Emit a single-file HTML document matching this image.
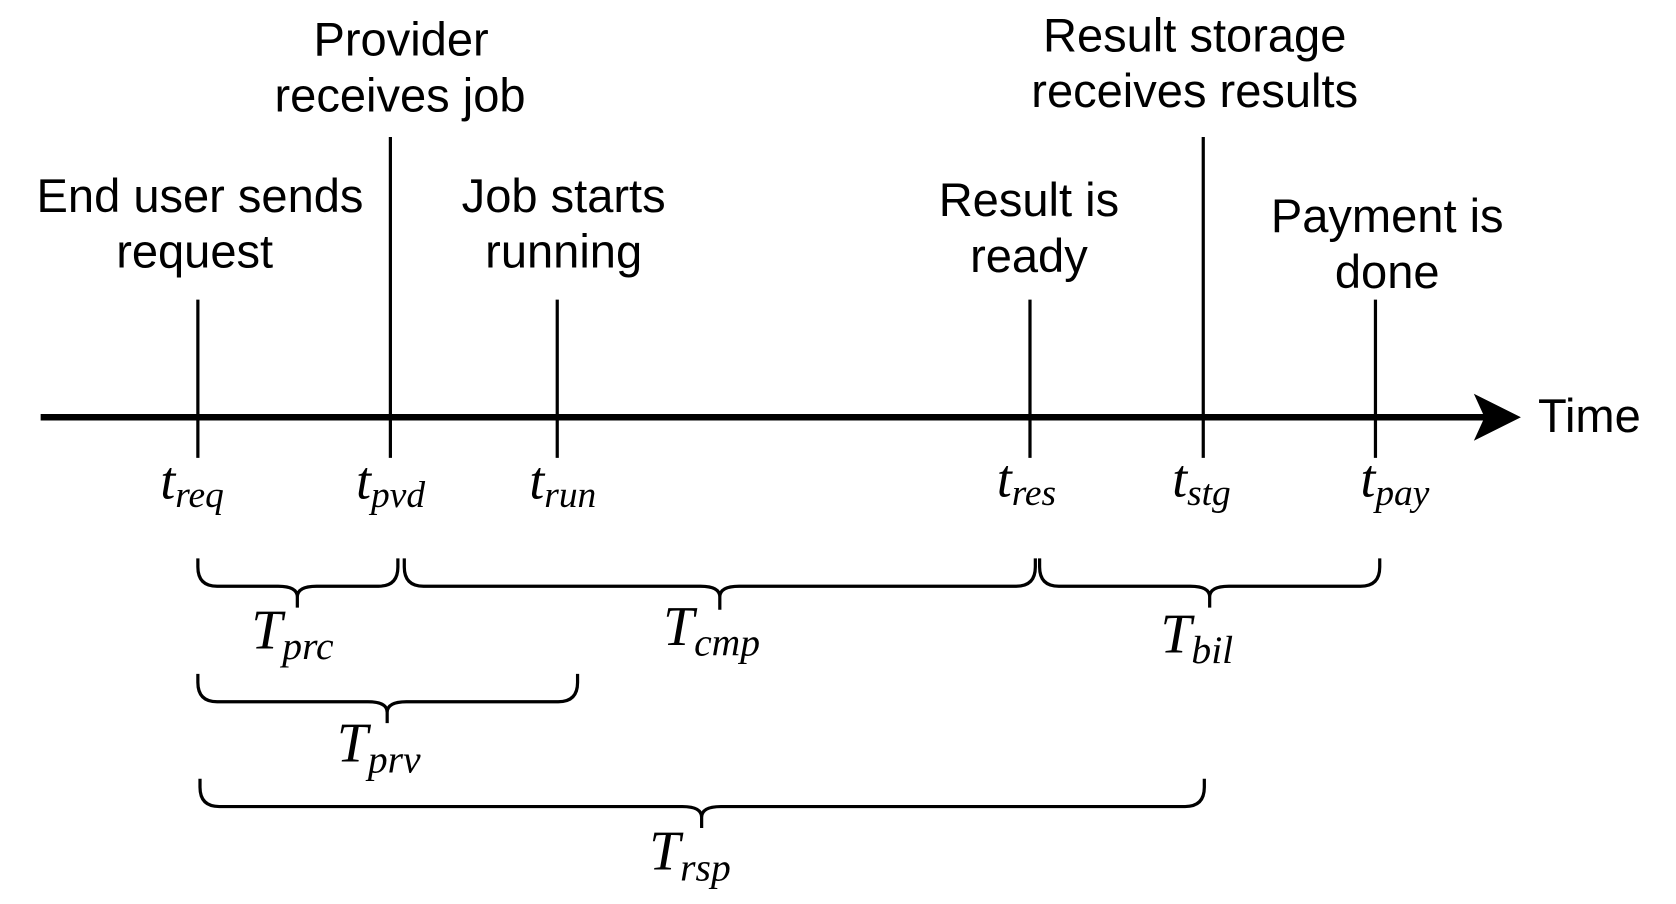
<!DOCTYPE html>
<html><head><style>html,body{margin:0;padding:0;background:#fff}svg{display:block}</style></head>
<body>
<svg width="1676" height="904" viewBox="0 0 1567 845" xmlns="http://www.w3.org/2000/svg">
<g stroke="#000" stroke-width="3" fill="none">
<line x1="38" y1="390" x2="1390" y2="390" stroke-width="6"/>
<line x1="185" y1="280" x2="185" y2="428"/>
<line x1="365" y1="128" x2="365" y2="428"/>
<line x1="521" y1="280" x2="521" y2="428"/>
<line x1="963" y1="280" x2="963" y2="428"/>
<line x1="1125" y1="128" x2="1125" y2="428"/>
<line x1="1286" y1="280" x2="1286" y2="428"/>
<path d="M185 522 V530 Q185 548 203 548 H260 Q278 548 278 558 V568 M278 558 Q278 548 296 548 H354 Q372 548 372 530 V522"/>
<path d="M378 522 V530 Q378 548 396 548 H655 Q673 548 673 558 V570 M673 558 Q673 548 691 548 H950 Q968 548 968 530 V522"/>
<path d="M972 522 V530 Q972 548 990 548 H1113 Q1131 548 1131 558 V568 M1131 558 Q1131 548 1149 548 H1272 Q1290 548 1290 530 V522"/>
<path d="M185 630 V638 Q185 656 203 656 H344 Q362 656 362 666 V676 M362 666 Q362 656 380 656 H522 Q540 656 540 638 V630"/>
<path d="M187 728 V736 Q187 754 205 754 H638 Q656 754 656 764 V774 M656 764 Q656 754 674 754 H1108 Q1126 754 1126 736 V728"/>
</g>
<path d="M1378 368 L1422 390 L1378 412 L1388 390 Z" fill="#000"/>
<g font-family="Liberation Sans, Arial, sans-serif" font-size="44" text-anchor="middle" fill="#000">
<text x="1486" y="404">Time</text>
<text x="187" y="198">End user sends</text>
<text x="182" y="250">request</text>
<text x="375" y="52">Provider</text>
<text x="374" y="104">receives job</text>
<text x="527" y="198">Job starts</text>
<text x="527" y="250">running</text>
<text x="962" y="202">Result is</text>
<text x="962" y="254">ready</text>
<text x="1117" y="48">Result storage</text>
<text x="1117" y="100">receives results</text>
<text x="1297" y="217">Payment is</text>
<text x="1297" y="269">done</text>
</g>
<g font-family="Liberation Serif, DejaVu Serif, serif" font-style="italic" fill="#000">
<text x="150" y="466" font-size="50">t<tspan font-size="35" dy="8">req</tspan></text>
<text x="333" y="466" font-size="50">t<tspan font-size="35" dy="8">pvd</tspan></text>
<text x="495" y="466" font-size="50">t<tspan font-size="35" dy="8">run</tspan></text>
<text x="932" y="464" font-size="50">t<tspan font-size="35" dy="8">res</tspan></text>
<text x="1096" y="464" font-size="50">t<tspan font-size="35" dy="8">stg</tspan></text>
<text x="1272" y="464" font-size="50">t<tspan font-size="35" dy="8">pay</tspan></text>
<text x="235" y="606" font-size="52">T<tspan font-size="37" dy="10">prc</tspan></text>
<text x="620" y="603" font-size="52">T<tspan font-size="37" dy="10">cmp</tspan></text>
<text x="1085" y="610" font-size="52">T<tspan font-size="37" dy="10">bil</tspan></text>
<text x="315" y="712" font-size="52">T<tspan font-size="37" dy="10">prv</tspan></text>
<text x="607" y="813" font-size="52">T<tspan font-size="37" dy="10">rsp</tspan></text>
</g>
</svg>
</body></html>
